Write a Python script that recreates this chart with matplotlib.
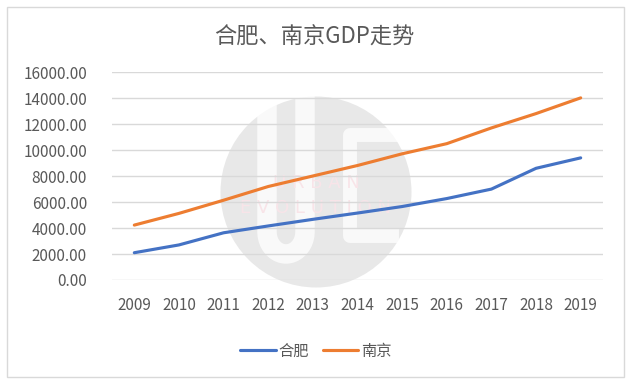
# ---------- 合肥、南京 GDP 走势 ----------

import numpy as np
import matplotlib
matplotlib.use('Agg')
import matplotlib.pyplot as plt
from matplotlib.patches import Ellipse, Rectangle
from matplotlib.lines import Line2D

plt.rcParams['font.family'] = ['Noto Sans CJK SC', 'DejaVu Sans']

# ----- Data -----

years = ['2009', '2010', '2011', '2012', '2013', '2014', '2015', '2016', '2017', '2018', '2019']
hefei = [2102, 2702, 3637, 4164, 4673, 5158, 5660, 6274, 7003, 8605, 9409]
nanjing = [4230, 5131, 6146, 7202, 8012, 8821, 9721, 10503, 11715, 12820, 14030]
y_ticks = [0, 2000, 4000, 6000, 8000, 10000, 12000, 14000, 16000]

W, H = 630, 384
fig = plt.figure(figsize=(W / 100, H / 100), dpi=100)

def fx(px):
    return px / W

def fy(py):
    return 1 - py / H

# -- Outer border --
fig.add_artist(Rectangle((fx(7), fy(377)), fx(617), (370) / H, transform=fig.transFigure,
                         fill=False, edgecolor='#d9d9d9', lw=1, zorder=0))

# -- Watermark (rough) --
fig.add_artist(Ellipse((fx(316), fy(192)), 191 / W, 191 / H, transform=fig.transFigure,
                       facecolor='#e8e8e8', edgecolor='none', zorder=0.5))
t = np.linspace(np.pi, 2 * np.pi, 20)
u_x = [fx(267)] + [fx(286 + 19 * np.cos(a)) for a in t] + [fx(305)]
u_y = [fy(100)] + [fy(232 - 22 * np.sin(a)) for a in t] + [fy(100)]
fig.add_artist(Line2D(u_x, u_y, transform=fig.transFigure, color='white', lw=14,
                      alpha=0.75, zorder=0.6))
c_x = [fx(392), fx(350), fx(350), fx(392)]
c_y = [fy(135), fy(135), fy(236), fy(236)]
fig.add_artist(Line2D(c_x, c_y, transform=fig.transFigure, color='white', lw=10,
                      alpha=0.75, zorder=0.6))
fig.text(fx(316), fy(183), 'U R B A N', ha='center', va='center', fontsize=13,
         color='#f8e4e8', family='DejaVu Sans', zorder=0.7)
fig.text(fx(316), fy(208), 'E V O L U T I O N', ha='center', va='center', fontsize=13,
         color='#f8e4e8', family='DejaVu Sans', zorder=0.7)

# ----- Plot -----

ax = fig.add_axes([fx(112), fy(280), (603 - 112) / W, (280 - 72.3) / H])
ax.set_zorder(1)
ax.patch.set_visible(False)

x = list(range(len(years)))
l1, = ax.plot(x, hefei, color='#4472C4', lw=2.25, solid_capstyle='round', zorder=3)
l2, = ax.plot(x, nanjing, color='#ED7D31', lw=2.25, solid_capstyle='round', zorder=3)

ax.set_xlim(-0.5, len(years) - 0.5)
ax.set_ylim(0, 16000)
ax.set_xticks(x)
ax.set_xticklabels(years)
ax.set_yticks(y_ticks)
ax.set_yticklabels([f'{v:.2f}' for v in y_ticks])

for s in ax.spines.values():
    s.set_visible(False)
ax.tick_params(length=0, labelsize=11, labelcolor='#595959')
ax.tick_params(axis='x', pad=12)
ax.tick_params(axis='y', pad=18)
ax.yaxis.grid(True, color='#d9d9d9', lw=1)
ax.set_axisbelow(True)

# -- Title --
fig.text(fx(314), fy(37), '合肥、南京GDP走势', ha='center', va='center',
         fontsize=16, color='#595959')

# -- Legend --
fig.legend([l1, l2], ['合肥', '南京'], loc='center', bbox_to_anchor=(fx(316), fy(351)),
           ncol=2, frameon=False, fontsize=11, handlelength=2.3, handletextpad=0.2,
           columnspacing=0.9, labelcolor='#595959')

fig.savefig('out.png', dpi=100, facecolor='white')
